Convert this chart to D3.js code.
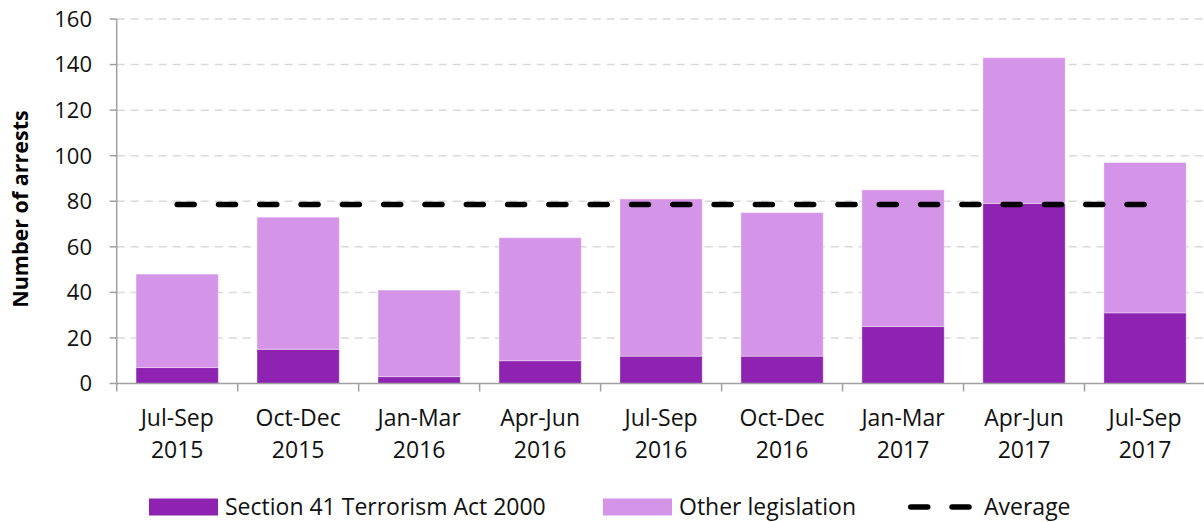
<!DOCTYPE html>
<html>
<head>
<meta charset="utf-8">
<script src="https://cdn.jsdelivr.net/npm/d3@7"></script>
<style>
  body { margin: 0; background: #fff; }
  svg { display: block; font-family: "Open Sans", sans-serif; }
</style>
</head>
<body>
<div id="chart"></div>
<script>
// quarterly arrests
const quarters = ["Jul-Sep 2015", "Oct-Dec 2015", "Jan-Mar 2016", "Apr-Jun 2016", "Jul-Sep 2016",
  "Oct-Dec 2016", "Jan-Mar 2017", "Apr-Jun 2017", "Jul-Sep 2017"];
const section41 = [7, 15, 3, 10, 12, 12, 25, 79, 31];
const otherLegislation = [41, 58, 38, 54, 69, 63, 60, 64, 66];
const averageArrests = 78.6;
const yTicks = [0, 20, 40, 60, 80, 100, 120, 140, 160];

const width = 1204, height = 522;
const plotLeft = 116.7, plotRight = 1205.5, plotTop = 19, plotBottom = 383.5;

const svg = d3.select("#chart").append("svg")
  .attr("width", width)
  .attr("height", height);

const x = d3.scaleBand()
  .domain(quarters)
  .range([plotLeft, plotRight])
  .paddingInner(0.32)
  .paddingOuter(0.16);

const y = d3.scaleLinear()
  .domain([0, 160])
  .range([plotBottom, plotTop]);

// gridlines
svg.append("g")
  .selectAll("line")
  .data(yTicks.filter(d => d > 0))
  .enter()
  .append("line")
  .attr("x1", plotLeft)
  .attr("x2", plotRight)
  .attr("y1", d => y(d))
  .attr("y2", d => y(d))
  .attr("stroke", "#d9d9d9")
  .attr("stroke-width", 1.5)
  .attr("stroke-dasharray", "8,6");

// stacked bars
const rows = quarters.map((q, i) => ({ q, s41: section41[i], other: otherLegislation[i] }));
const stacked = d3.stack().keys(["s41", "other"])(rows);
const colors = { s41: "#8e23b1", other: "#d495e9" };

svg.append("g")
  .selectAll("g")
  .data(stacked)
  .enter()
  .append("g")
  .attr("fill", d => colors[d.key])
  .selectAll("rect")
  .data(d => d)
  .enter()
  .append("rect")
  .attr("x", d => x(d.data.q))
  .attr("width", x.bandwidth())
  .attr("y", d => y(d[1]))
  .attr("height", d => y(d[0]) - y(d[1]))
  .attr("stroke", "#ffffff")
  .attr("stroke-opacity", 0.35)
  .attr("stroke-width", 1);

// average line from first to last category centre
const avgLine = d3.line()
  .x(d => x(d) + x.bandwidth() / 2)
  .y(() => y(averageArrests));

svg.append("path")
  .datum([quarters[0], quarters[quarters.length - 1]])
  .attr("d", avgLine)
  .attr("fill", "none")
  .attr("stroke", "#000")
  .attr("stroke-width", 5.5)
  .attr("stroke-linecap", "round")
  .attr("stroke-dasharray", "17,24.3");

// y axis
const axisColor = "#a0a0a0";
svg.append("line")
  .attr("x1", plotLeft).attr("x2", plotLeft)
  .attr("y1", plotTop).attr("y2", plotBottom)
  .attr("stroke", axisColor).attr("stroke-width", 1.5);

svg.append("g")
  .selectAll("line")
  .data(yTicks)
  .enter()
  .append("line")
  .attr("x1", plotLeft - 7).attr("x2", plotLeft)
  .attr("y1", d => y(d)).attr("y2", d => y(d))
  .attr("stroke", axisColor).attr("stroke-width", 1.5);

svg.append("g")
  .selectAll("text")
  .data(yTicks)
  .enter()
  .append("text")
  .attr("x", 92)
  .attr("y", d => y(d))
  .attr("dy", "0.36em")
  .attr("text-anchor", "end")
  .attr("font-size", 22)
  .attr("fill", "#111")
  .text(d => d);

svg.append("text")
  .attr("transform", "translate(28,209) rotate(-90)")
  .attr("text-anchor", "middle")
  .attr("font-size", 21.5)
  .attr("font-weight", "bold")
  .attr("fill", "#000")
  .text("Number of arrests");

// x axis with ticks between categories
svg.append("line")
  .attr("x1", plotLeft).attr("x2", plotRight)
  .attr("y1", plotBottom).attr("y2", plotBottom)
  .attr("stroke", axisColor).attr("stroke-width", 1.5);

svg.append("g")
  .selectAll("line")
  .data(d3.range(quarters.length + 1))
  .enter()
  .append("line")
  .attr("x1", i => plotLeft + i * x.step())
  .attr("x2", i => plotLeft + i * x.step())
  .attr("y1", plotBottom).attr("y2", plotBottom + 8)
  .attr("stroke", axisColor).attr("stroke-width", 1.5);

const catLabels = svg.append("g")
  .selectAll("text")
  .data(quarters)
  .enter()
  .append("text")
  .attr("x", d => x(d) + x.bandwidth() / 2)
  .attr("text-anchor", "middle")
  .attr("font-size", 23)
  .attr("fill", "#111");

catLabels.append("tspan")
  .attr("x", d => x(d) + x.bandwidth() / 2)
  .attr("y", 426)
  .text(d => d.split(" ")[0]);
catLabels.append("tspan")
  .attr("x", d => x(d) + x.bandwidth() / 2)
  .attr("y", 458)
  .text(d => d.split(" ")[1]);

// legend
const legendItems = [
  { label: "Section 41 Terrorism Act 2000", type: "rect", color: colors.s41, x: 149 },
  { label: "Other legislation", type: "rect", color: colors.other, x: 603 },
  { label: "Average", type: "line", color: "#000", x: 908 }
];

const legend = svg.append("g")
  .selectAll("g")
  .data(legendItems)
  .enter()
  .append("g")
  .attr("transform", d => `translate(${d.x},507)`);

legend.filter(d => d.type === "rect")
  .append("rect")
  .attr("x", 0).attr("y", -8.5)
  .attr("width", 69).attr("height", 17)
  .attr("fill", d => d.color);

legend.filter(d => d.type === "line")
  .append("line")
  .attr("x1", 2.75).attr("x2", 61)
  .attr("y1", 0).attr("y2", 0)
  .attr("stroke", "#000")
  .attr("stroke-width", 5.5)
  .attr("stroke-linecap", "round")
  .attr("stroke-dasharray", "17,24.3");

legend.append("text")
  .attr("x", 76)
  .attr("y", 0)
  .attr("dy", "0.36em")
  .attr("font-size", 23)
  .attr("fill", "#111")
  .text(d => d.label);
</script>
</body>
</html>
